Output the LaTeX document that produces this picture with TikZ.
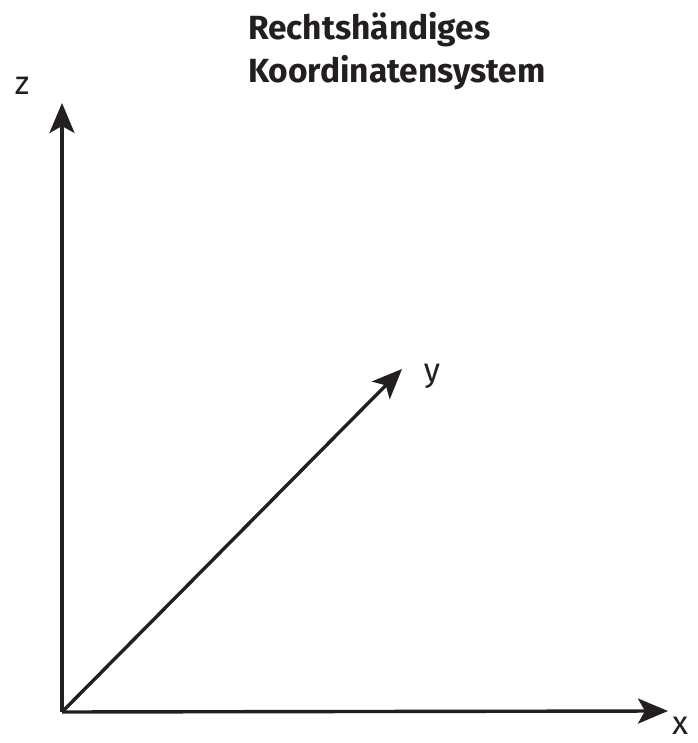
\documentclass[tikz,border=0pt]{standalone}
\usepackage{fontspec}
\setmainfont{Fira Sans}
\usetikzlibrary{arrows.meta}
\definecolor{ink}{HTML}{231F20}
\begin{document}
\begin{tikzpicture}[x=1pt,y=1pt,
  axis/.style={draw=ink,line width=3.4pt,-{Stealth[length=30pt,width=25pt,inset=7pt]}},
  lbl/.style={text=ink,font=\fontsize{33}{36}\selectfont,inner sep=0pt,anchor=base},
  ttl/.style={text=ink,font=\bfseries\fontsize{33.5}{43}\selectfont,inner sep=0pt,anchor=base west}]
\useasboundingbox (0,0) rectangle (697,743);
\coordinate (o) at (62,31);
\coordinate (zt) at (62,640);
\coordinate (xt) at (668,32);
\coordinate (yt) at (402,374);
\draw[axis] (o) -- (zt);
\draw[axis] (o) -- (xt);
\draw[axis] (o) -- (yt);
\node[lbl] (zl) at (22,648) {z};
\node[lbl] (xl) at (680,9) {x};
\node[lbl] (yl) at (432,361) {y};
\node[ttl] (title1) at (248,703) {Rechtshändiges};
\node[ttl] (title2) at (248,660) {Koordinatensystem};
\end{tikzpicture}
\end{document}
